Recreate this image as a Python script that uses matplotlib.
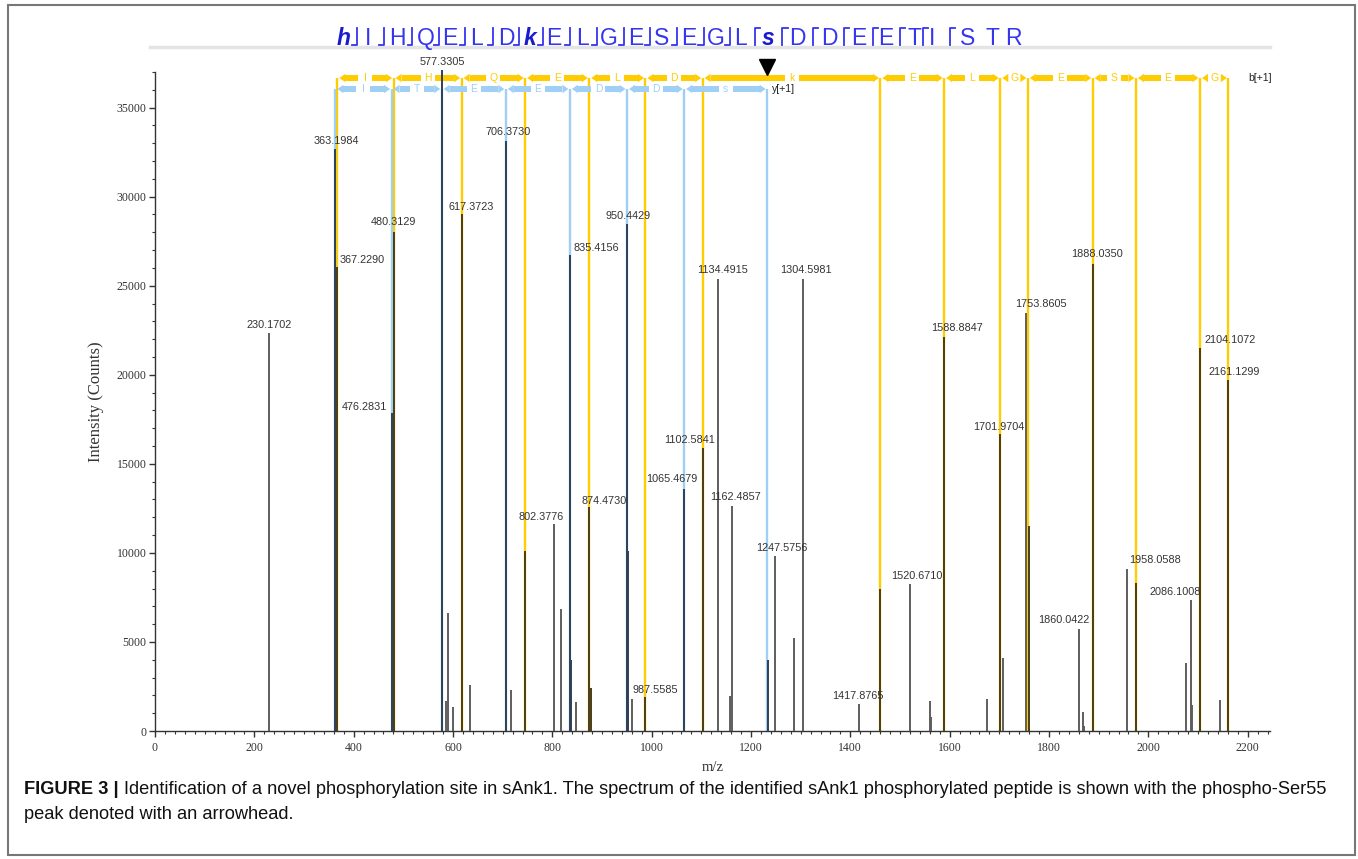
import matplotlib
matplotlib.use("Agg")
import matplotlib.pyplot as plt
from matplotlib.patches import Polygon, Rectangle
from matplotlib.lines import Line2D
import matplotlib.ticker as mticker

# ---------------- data ----------------
labeled_mz = [230.1702, 363.1984, 367.2290, 476.2831, 480.3129, 577.3305, 617.3723,
              706.3730, 802.3776, 835.4156, 874.4730, 950.4429, 987.5585, 1065.4679,
              1102.5841, 1134.4915, 1162.4857, 1247.5756, 1304.5981, 1417.8765,
              1520.6710, 1588.8847, 1701.9704, 1753.8605, 1860.0422, 1888.0350,
              1958.0588, 2086.1008, 2104.1072, 2161.1299]
labeled_int = [22350, 32650, 26050, 17850, 28000, 37100, 29000,
               33150, 11600, 26700, 12550, 28450, 1900, 13600,
               15900, 25350, 12650, 9800, 25350, 1520,
               8250, 22100, 16650, 23450, 5730, 26200,
               9100, 7380, 21480, 19720]

other_mz = [586, 590, 600, 635, 717, 745.43, 818, 838, 848, 877, 953, 961, 1157,
            1234, 1286, 1460.65, 1561, 1563, 1675, 1708, 1759.0, 1869, 1871,
            1975.07, 2076, 2088, 2145]
other_int = [1700, 6600, 1350, 2600, 2300, 10100, 6850, 4000, 1650, 2400, 10100, 1800, 1950,
             4000, 5200, 8000, 1700, 800, 1800, 4100, 11500, 1050, 300,
             8300, 3800, 1450, 1750]

b_ion_mz = [367.2290, 480.3129, 617.3723, 745.43, 874.4730, 987.5585, 1102.5841,
            1460.65, 1588.8847, 1701.9704, 1757.5, 1888.0350, 1975.07, 2104.1072, 2161.1299]
b_ion_res = ['I', 'H', 'Q', 'E', 'L', 'D', 'k', 'E', 'L', 'G', 'E', 'S', 'E', 'G']
y_ion_mz = [363.1984, 476.2831, 577.3305, 706.3730, 835.4156, 950.4429, 1065.4679, 1232.5]
y_ion_res = ['I', 'T', 'E', 'E', 'D', 'D', 's']

sequence = list("hIHQELDkELGESEGLsDDEETISTR")
modified_residues = {0, 7, 16}
b_marks_after = list(range(0, 15))
y_marks_before = list(range(16, 24))

x_ticks = list(range(0, 2201, 200))
y_ticks = list(range(0, 35001, 5000))

caption_bold = "FIGURE 3 |"
caption_line1 = ("Identification of a novel phosphorylation site in sAnk1. The spectrum of the "
                 "identified sAnk1 phosphorylated peptide is shown with the phospho-Ser55")
caption_line2 = "peak denoted with an arrowhead."

# ---------------- style / layout ----------------
label_dx = [0, 1, 25, -27, 0, 1, 10, 2, -12, 26, 15, 1, 10, -12, -13, 4, 3, 7, 3, -1,
            7, 13, -2, 15, -15, 4, 28, -16, 30, 6]
label_dy = [8, 8.5, 7, 6, 10, 8, 7, 9, 7, 7, 6, 8, 7, 10, 8, 9.5, 9, 8.5, 9.5, 8,
            8, 9, 7.5, 9, 9, 10, 9, 8, 8.5, 8]
letter_px = [344, 368, 397, 426, 450, 477, 506, 530, 554, 583, 609, 636, 662, 689,
             716, 741, 768, 797, 829, 859, 886, 914, 932, 968, 992, 1013]

GOLD = '#FFCC00'
LBLUE = '#9FCFF5'
B_PEAK = '#4a3e18'
Y_PEAK = '#2e4057'
PEAK = '#5e5e5e'
SEQ_BLUE = '#3535f0'
SEQ_BOLD = '#1a1ad0'

W, H = 1358, 859
fig = plt.figure(figsize=(W / 100, H / 100), dpi=100)


def fx(px):
    return px / W


def fy(py):
    return 1 - py / H


XMAX, YMAX = 2245, 37000
ax_l, ax_r, ax_t, ax_b = 155, 1270, 72, 731
ax = fig.add_axes([fx(ax_l), fy(ax_b), (ax_r - ax_l) / W, (ax_b - ax_t) / H])
ax.set_xlim(0, XMAX)
ax.set_ylim(0, YMAX)
sx = (ax_r - ax_l) / XMAX      # px per m/z unit
sy = (ax_b - ax_t) / YMAX      # px per count
ux, uy = 1 / sx, 1 / sy

serif = ['Liberation Serif', 'DejaVu Serif']
sans = ['Liberation Sans', 'DejaVu Sans']

for s in ['top', 'right']:
    ax.spines[s].set_visible(False)
for s in ['left', 'bottom']:
    ax.spines[s].set_color('#333333')
    ax.spines[s].set_linewidth(1.0)

ax.xaxis.set_major_locator(mticker.FixedLocator(x_ticks))
ax.xaxis.set_minor_locator(mticker.MultipleLocator(20))
ax.yaxis.set_major_locator(mticker.FixedLocator(y_ticks))
ax.yaxis.set_minor_locator(mticker.MultipleLocator(1000))
ax.tick_params(axis='both', which='major', length=4, width=1, color='#333333',
               labelsize=8.5, labelcolor='#333333', pad=2)
ax.tick_params(axis='both', which='minor', length=2.2, width=0.8, color='#333333')
for lab in ax.get_xticklabels() + ax.get_yticklabels():
    lab.set_family(serif)
ax.tick_params(axis='x', pad=4)

ax.set_xlabel('m/z', family=serif, fontsize=10.5, color='#333333', labelpad=5)
ax.set_ylabel('Intensity (Counts)', family=serif, fontsize=12, color='#333333', labelpad=9)

# annotation bars height
b_bar_y = (ax_b - 78) * uy
y_bar_y = (ax_b - 89) * uy

# ion vertical lines
ax.vlines(b_ion_mz, 0, b_bar_y, colors=GOLD, lw=1.7, zorder=1, clip_on=False)
ax.vlines(y_ion_mz, 0, y_bar_y, colors=LBLUE, lw=1.7, zorder=1, clip_on=False)


def peak_color(m):
    if any(abs(m - b) < 3.6 for b in b_ion_mz):
        return B_PEAK
    if any(abs(m - y) < 3.6 for y in y_ion_mz):
        return Y_PEAK
    return PEAK


all_mz = labeled_mz + other_mz
all_int = labeled_int + other_int
ax.vlines(all_mz, 0, all_int, colors=[peak_color(m) for m in all_mz], lw=1.4,
          zorder=4, clip_on=False)

for m, v, dx, dy in zip(labeled_mz, labeled_int, label_dx, label_dy):
    ax.annotate(f"{m:.4f}", xy=(m, v), xytext=(dx, dy), textcoords='offset pixels',
                ha='center', va='center', fontsize=7.8, color='#333333', family=sans,
                annotation_clip=False, zorder=5)


def draw_segment(x1, x2, yc, color, letter):
    a = x1 + 2 * ux
    b = x2 - 1.5 * ux
    mid = (x1 + x2) / 2
    gap = 7 * ux
    hl = 6 * ux
    hh = 4.2 * uy
    bh = 2.6 * uy
    ax.add_patch(Polygon([(a, yc), (a + hl, yc + hh), (a + hl, yc - hh)], closed=True,
                         color=color, lw=0, clip_on=False, zorder=3))
    ax.add_patch(Polygon([(b, yc), (b - hl, yc + hh), (b - hl, yc - hh)], closed=True,
                         color=color, lw=0, clip_on=False, zorder=3))
    if mid - gap > a + hl:
        ax.add_patch(Rectangle((a + hl, yc - bh), mid - gap - (a + hl), 2 * bh,
                               color=color, lw=0, clip_on=False, zorder=3))
    if b - hl > mid + gap:
        ax.add_patch(Rectangle((mid + gap, yc - bh), (b - hl) - (mid + gap), 2 * bh,
                               color=color, lw=0, clip_on=False, zorder=3))
    ax.text(mid, yc, letter, ha='center', va='center', fontsize=7.5, color=color,
            family=sans, clip_on=False, zorder=3)


for i, r in enumerate(b_ion_res):
    draw_segment(b_ion_mz[i], b_ion_mz[i + 1], b_bar_y, GOLD, r)
for i, r in enumerate(y_ion_res):
    draw_segment(y_ion_mz[i], y_ion_mz[i + 1], y_bar_y, LBLUE, r)

ax.text(y_ion_mz[-1] + 5 * ux, y_bar_y, 'y[+1]', ha='left', va='center', fontsize=7.5,
        color='#222222', family=sans, clip_on=False)
ax.text(b_ion_mz[-1] + 20 * ux, b_bar_y, 'b[+1]', ha='left', va='center', fontsize=7.5,
        color='#222222', family=sans, clip_on=False)
# phospho-site arrowhead
ax.plot([y_ion_mz[-1]], [b_bar_y + 11 * uy], marker='v', markersize=11, color='black',
        clip_on=False, zorder=6, lw=0)

# ---------------- header (sequence) ----------------
fig.add_artist(Line2D([fx(150), fx(1270)], [fy(47), fy(47)], color='#e4e4e4', lw=2.5))
for i, res in enumerate(sequence):
    if i in modified_residues:
        fig.text(fx(letter_px[i]), fy(45), res, ha='center', va='baseline', fontsize=16.5,
                 color=SEQ_BOLD, weight='bold', style='italic', family=sans)
    else:
        fig.text(fx(letter_px[i]), fy(45), res, ha='center', va='baseline', fontsize=16.5,
                 color=SEQ_BLUE, family=sans)

for i in b_marks_after:
    xm = (letter_px[i] + letter_px[i + 1]) / 2 + 1
    fig.add_artist(Line2D([fx(xm - 5), fx(xm), fx(xm)], [fy(45), fy(45), fy(28)],
                          color=SEQ_BLUE, lw=1.3))
for i in y_marks_before:
    xm = (letter_px[i - 1] + letter_px[i]) / 2
    fig.add_artist(Line2D([fx(xm), fx(xm), fx(xm + 5)], [fy(45), fy(28), fy(28)],
                          color=SEQ_BLUE, lw=1.3))

# ---------------- border and caption ----------------
fig.add_artist(Rectangle((fx(8), fy(855)), (1355 - 8) / W, (855 - 5) / H, fill=False,
                         edgecolor='#777777', lw=1.5, transform=fig.transFigure))

renderer = fig.canvas.get_renderer()
fs = 12.0
t1 = fig.text(fx(24), fy(794), caption_bold, fontsize=fs, weight='bold', family=sans,
              color='#111111', va='baseline')
t2 = fig.text(0, fy(794), caption_line1, fontsize=fs, family=sans, color='#111111',
              va='baseline')
w1 = t1.get_window_extent(renderer).width
w2 = t2.get_window_extent(renderer).width
scale = (1330 - 24) / (w1 + 5 + w2)
fs2 = fs * scale
t1.set_fontsize(fs2)
t2.set_fontsize(fs2)
w1 = t1.get_window_extent(renderer).width
t2.set_x(fx(24 + w1 + 5))
fig.text(fx(24), fy(819), caption_line2, fontsize=fs2, family=sans, color='#111111',
         va='baseline')

fig.savefig('out.png', dpi=100, facecolor='white')
